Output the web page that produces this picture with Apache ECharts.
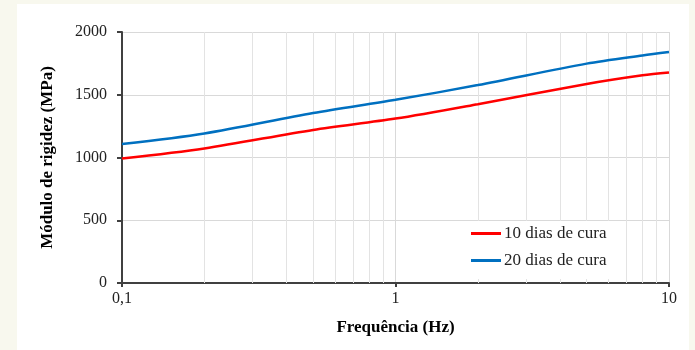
<!DOCTYPE html>
<html>
<head>
<meta charset="utf-8">
<script src="https://cdn.jsdelivr.net/npm/echarts@6/dist/echarts.min.js"></script>
<style>
  html, body { margin: 0; padding: 0; background: #f8f8ee; }
  .panel { position: absolute; left: 17px; top: 4px; width: 672px; height: 346px; background: #fff; }
  #chart { position: absolute; left: 0; top: 0; width: 695px; height: 350px; }
</style>
</head>
<body>
<div class="panel"></div>
<div id="chart"></div>
<script>
// frequências (Hz)
const freq = [0.1, 0.2, 0.5, 1, 2, 5, 8, 10];
// módulo de rigidez (MPa)
const cura10 = [992, 1072, 1220, 1310, 1425, 1586, 1655, 1678];
const cura20 = [1107, 1192, 1355, 1460, 1577, 1748, 1813, 1840];
// linhas secundárias da grade logarítmica
const minorFreq = [0.2, 0.3, 0.4, 0.5, 0.6, 0.7, 0.8, 0.9, 2, 3, 4, 5, 6, 7, 8, 9];

const serif = '"Liberation Serif", "DejaVu Serif", serif';
const pairs = ys => freq.map((f, i) => [f, ys[i]]);

const chart = echarts.init(document.getElementById('chart'));

chart.setOption({
  animation: false,
  grid: { left: 122, right: 26, top: 32, bottom: 67 },
  xAxis: {
    type: 'log',
    logBase: 10,
    min: 0.1,
    max: 10,
    name: 'Frequência (Hz)',
    nameLocation: 'middle',
    nameGap: 36,
    nameTextStyle: { fontFamily: serif, fontWeight: 'bold', fontSize: 17, color: '#000' },
    axisLine: { lineStyle: { color: '#404040', width: 2 } },
    axisTick: { length: 4, lineStyle: { color: '#404040', width: 2 } },
    axisLabel: {
      fontFamily: serif, fontSize: 16, color: '#222', margin: 8,
      formatter: v => String(v).replace('.', ',')
    },
    splitLine: { show: true, lineStyle: { color: '#d9d9d9', width: 1 } }
  },
  yAxis: {
    type: 'value',
    min: 0,
    max: 2000,
    interval: 500,
    name: 'Módulo de rigidez (MPa)',
    nameLocation: 'middle',
    nameGap: 66,
    nameTextStyle: { fontFamily: serif, fontWeight: 'bold', fontSize: 17, color: '#000' },
    axisLine: { show: true, lineStyle: { color: '#404040', width: 2 } },
    axisTick: { show: true, length: 5, lineStyle: { color: '#404040', width: 2 } },
    axisLabel: { fontFamily: serif, fontSize: 16, color: '#222', margin: 15, formatter: v => String(v) },
    splitLine: { lineStyle: { color: '#d9d9d9', width: 1 } }
  },
  legend: {
    orient: 'vertical',
    left: 425,
    top: 221,
    z: 20,
    padding: [4, 14, 10, 46],
    backgroundColor: '#fff',
    icon: 'rect',
    itemWidth: 30,
    itemHeight: 3,
    itemGap: 10,
    textStyle: { fontFamily: serif, fontSize: 17, color: '#222', padding: [0, 0, 0, -2] },
    data: ['10 dias de cura', '20 dias de cura']
  },
  series: [
    {
      name: 'grade',
      type: 'line',
      data: [],
      silent: true,
      z: 1,
      markLine: {
        silent: true,
        symbol: 'none',
        z: 1,
        label: { show: false },
        lineStyle: { color: '#e3e3e3', type: 'solid', width: 1 },
        data: minorFreq.map(f => ({ xAxis: f }))
      }
    },
    {
      name: '10 dias de cura',
      type: 'line',
      data: pairs(cura10),
      smooth: 0.3,
      symbol: 'none',
      color: '#ff0000',
      lineStyle: { width: 2.5 },
      z: 3
    },
    {
      name: '20 dias de cura',
      type: 'line',
      data: pairs(cura20),
      smooth: 0.3,
      symbol: 'none',
      color: '#0070c0',
      lineStyle: { width: 2.5 },
      z: 3
    }
  ]
});

window.addEventListener('resize', () => chart.resize());
</script>
</body>
</html>
